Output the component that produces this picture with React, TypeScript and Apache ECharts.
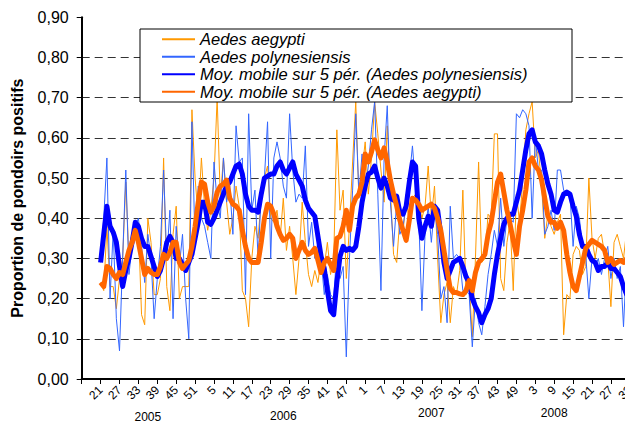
import React, { useEffect, useRef } from 'react';
import * as echarts from 'echarts';

// Weekly categories: 2005 w15 .. 2008 w33 (data starts at 2005 w21)
const yearSpans = [
  { year: 2005, from: 15, to: 52 },
  { year: 2006, from: 1, to: 52 },
  { year: 2007, from: 1, to: 52 },
  { year: 2008, from: 1, to: 33 },
];
const categories: string[] = [];
yearSpans.forEach((s) => {
  for (let w = s.from; w <= s.to; w++) categories.push(String(w));
});
const leadingEmpty = 6; // weeks 15-20 of 2005 have no data

const yearLabels = [
  { label: '2005', index: 21, pad: 4 },
  { label: '2006', index: 64, pad: 3 },
  { label: '2007', index: 111, pad: 0 },
  { label: '2008', index: 150, pad: 0 },
];

const aegypti = [
  0.24, 0.22, 0.38, 0.23, 0.23, 0.175, 0.25, 0.30, 0.49, 0.30,
  0.33, 0.36, 0.38, 0.16, 0.135, 0.40, 0.34, 0.21, 0.21, 0.25,
  0.55, 0.23, 0.17, 0.36, 0.43, 0.20, 0.23, 0.23, 0.23, 0.67,
  0.50, 0.40, 0.55, 0.43, 0.37, 0.42, 0.50, 0.70, 0.45, 0.55,
  0.44, 0.36, 0.40, 0.48, 0.43, 0.22, 0.20, 0.13, 0.30, 0.38,
  0.35, 0.45, 0.50, 0.53, 0.40, 0.39, 0.42, 0.35, 0.45, 0.32,
  0.38, 0.30, 0.21, 0.30, 0.44, 0.34, 0.26, 0.23, 0.27, 0.24,
  0.30, 0.28, 0.34, 0.26, 0.30, 0.62, 0.42, 0.47, 0.25, 0.38,
  0.54, 0.69, 0.45, 0.52, 0.59, 0.46, 0.55, 0.69, 0.61, 0.52,
  0.44, 0.63, 0.47, 0.31, 0.29, 0.40, 0.36, 0.46, 0.38, 0.45,
  0.46, 0.44, 0.40, 0.43, 0.53, 0.40, 0.48, 0.30, 0.14, 0.21,
  0.24, 0.14, 0.23, 0.21, 0.27, 0.47, 0.21, 0.24, 0.105, 0.30,
  0.54, 0.29, 0.30, 0.41, 0.40, 0.61, 0.61, 0.25, 0.22, 0.34,
  0.39, 0.22, 0.46, 0.39, 0.49, 0.62, 0.66, 0.69, 0.55, 0.57,
  0.48, 0.35, 0.41, 0.38, 0.36, 0.39, 0.41, 0.11, 0.21, 0.20,
  0.31, 0.33, 0.32, 0.26, 0.28, 0.50, 0.35, 0.30, 0.35, 0.36,
  0.31, 0.30, 0.18, 0.34, 0.36, 0.33, 0.30, 0.37, 0.25,
];

const polynesiensis = [
  0.29, 0.40, 0.55, 0.20, 0.37, 0.15, 0.07, 0.30, 0.52, 0.26,
  0.33, 0.38, 0.40, 0.33, 0.24, 0.36, 0.30, 0.15, 0.25, 0.33,
  0.52, 0.30, 0.42, 0.15, 0.38, 0.28, 0.36, 0.20, 0.10, 0.64,
  0.33, 0.48, 0.40, 0.38, 0.34, 0.30, 0.54, 0.44, 0.40, 0.55,
  0.44, 0.48, 0.36, 0.63, 0.54, 0.55, 0.21, 0.66, 0.42, 0.47,
  0.30, 0.46, 0.50, 0.64, 0.30, 0.55, 0.59, 0.55, 0.48, 0.45,
  0.66, 0.52, 0.44, 0.46, 0.45, 0.58, 0.33, 0.39, 0.30, 0.34,
  0.30, 0.21, 0.26, 0.21, 0.20, 0.32, 0.25, 0.28, 0.055, 0.30,
  0.47, 0.66, 0.46, 0.56, 0.47, 0.53, 0.62, 0.69, 0.46, 0.22,
  0.55, 0.68, 0.44, 0.33, 0.44, 0.36, 0.38, 0.43, 0.50, 0.58,
  0.48, 0.40, 0.17, 0.36, 0.43, 0.34, 0.43, 0.36, 0.20, 0.23,
  0.14, 0.43, 0.30, 0.31, 0.30, 0.22, 0.22, 0.21, 0.08, 0.20,
  0.14, 0.11, 0.18, 0.26, 0.31, 0.37, 0.33, 0.45, 0.33, 0.40,
  0.40, 0.39, 0.66, 0.65, 0.67, 0.66, 0.63, 0.40, 0.60, 0.52,
  0.52, 0.36, 0.38, 0.42, 0.37, 0.52, 0.52, 0.47, 0.46, 0.46,
  0.33, 0.43, 0.40, 0.33, 0.31, 0.20, 0.30, 0.28, 0.30, 0.26,
  0.30, 0.33, 0.25, 0.30, 0.25, 0.28, 0.13, 0.30, 0.27,
];

const maPolynesiensis = [
  0.29, 0.36, 0.43, 0.38, 0.365, 0.34, 0.28, 0.23, 0.27, 0.30,
  0.34, 0.39, 0.38, 0.35, 0.33, 0.33, 0.305, 0.28, 0.255, 0.27,
  0.30, 0.34, 0.355, 0.34, 0.30, 0.30, 0.285, 0.27, 0.29, 0.31,
  0.35, 0.39, 0.44, 0.44, 0.39, 0.385, 0.40, 0.42, 0.44, 0.46,
  0.48, 0.49, 0.51, 0.53, 0.535, 0.51, 0.46, 0.43, 0.42, 0.42,
  0.415, 0.46, 0.50, 0.505, 0.51, 0.51, 0.53, 0.54, 0.52, 0.51,
  0.525, 0.54, 0.51, 0.495, 0.48, 0.445, 0.425, 0.415, 0.405, 0.355,
  0.305, 0.275, 0.22, 0.17, 0.16, 0.24, 0.305, 0.33, 0.32, 0.325,
  0.32, 0.33, 0.38, 0.44, 0.48, 0.51, 0.515, 0.53, 0.50, 0.475,
  0.50, 0.48, 0.45, 0.445, 0.455, 0.415, 0.41, 0.43, 0.49, 0.54,
  0.53, 0.40, 0.35, 0.38, 0.405, 0.38, 0.43, 0.42, 0.36, 0.29,
  0.25, 0.27, 0.29, 0.295, 0.30, 0.28, 0.255, 0.24, 0.20, 0.18,
  0.165, 0.14, 0.16, 0.175, 0.20, 0.26, 0.31, 0.35, 0.385, 0.40,
  0.41, 0.41, 0.44, 0.47, 0.52, 0.57, 0.61, 0.62, 0.59, 0.58,
  0.56, 0.52, 0.485, 0.46, 0.42, 0.415, 0.44, 0.46, 0.465, 0.46,
  0.43, 0.405, 0.36, 0.33, 0.33, 0.31, 0.295, 0.29, 0.27, 0.28,
  0.28, 0.29, 0.275, 0.275, 0.265, 0.255, 0.23, 0.21, 0.20,
];

const maAegypti = [
  0.24, 0.23, 0.28, 0.275, 0.26, 0.25, 0.265, 0.26, 0.29, 0.32,
  0.34, 0.37, 0.34, 0.30, 0.26, 0.275, 0.265, 0.26, 0.26, 0.28,
  0.31, 0.30, 0.315, 0.34, 0.34, 0.29, 0.275, 0.285, 0.295, 0.33,
  0.38, 0.44, 0.49, 0.485, 0.44, 0.415, 0.43, 0.465, 0.48, 0.485,
  0.495, 0.45, 0.435, 0.43, 0.42, 0.37, 0.33, 0.30, 0.29, 0.29,
  0.29, 0.34, 0.40, 0.435, 0.43, 0.41, 0.38, 0.36, 0.345, 0.35,
  0.36, 0.35, 0.30, 0.32, 0.34, 0.32, 0.31, 0.315, 0.325, 0.295,
  0.265, 0.29, 0.30, 0.285, 0.27, 0.35, 0.355, 0.38, 0.42, 0.37,
  0.43, 0.45, 0.46, 0.49, 0.56, 0.54, 0.565, 0.595, 0.57, 0.55,
  0.575, 0.54, 0.495, 0.46, 0.43, 0.395, 0.37, 0.345, 0.395, 0.45,
  0.445, 0.435, 0.42, 0.425, 0.43, 0.435, 0.425, 0.40, 0.37, 0.32,
  0.27, 0.225, 0.215, 0.215, 0.212, 0.21, 0.22, 0.245, 0.22, 0.265,
  0.29, 0.30, 0.31, 0.36, 0.39, 0.44, 0.49, 0.51, 0.465, 0.42,
  0.385, 0.345, 0.31, 0.38, 0.42, 0.47, 0.54, 0.55, 0.53, 0.52,
  0.495, 0.45, 0.405, 0.39, 0.39, 0.375, 0.39, 0.37, 0.31, 0.265,
  0.23, 0.22, 0.255, 0.29, 0.325, 0.335, 0.345, 0.34, 0.335, 0.33,
  0.32, 0.29, 0.30, 0.285, 0.29, 0.295, 0.29, 0.30, 0.285,
];

const seriesNames = [
  'Aedes aegypti',
  'Aedes polynesiensis',
  'Moy. mobile sur 5 pér. (Aedes polynesiensis)',
  'Moy. mobile sur 5 pér. (Aedes aegypti)',
];

const FONT = '"Liberation Sans", Arial, Helvetica, sans-serif';

function pad(arr: number[]): (number | null)[] {
  const out: (number | null)[] = [];
  for (let i = 0; i < leadingEmpty; i++) out.push(null);
  return out.concat(arr);
}

export default function App() {
  const ref = useRef<HTMLDivElement>(null);
  useEffect(() => {
    if (!ref.current) return;
    const chart = echarts.init(ref.current, undefined, { renderer: 'svg' });
    const yearIdx = new Map<number, number>();
    yearLabels.forEach((y, k) => yearIdx.set(y.index, k));
    const rich: Record<string, any> = {};
    yearLabels.forEach((y, k) => {
      rich['y' + k] = { fontSize: 12, fontFamily: FONT, color: '#000', padding: [y.pad, 0, 0, 0] };
    });
    const option: any = {
      animation: false,
      backgroundColor: '#ffffff',
      grid: {
        left: 81.7,
        top: 17.3,
        width: 548.1,
        height: 361.7,
        containLabel: false,
        outerBoundsMode: 'none',
      },
      legend: {
        orient: 'vertical',
        left: 140,
        top: 29,
        padding: [1.5, 10, 1, 21],
        itemGap: 0,
        itemWidth: 33,
        itemHeight: 12,
        z: 6,
        selectedMode: false,
        data: seriesNames,
        itemStyle: { opacity: 0 },
        textStyle: {
          fontFamily: FONT,
          fontStyle: 'italic',
          fontSize: 16.5,
          lineHeight: 17.5,
          color: '#000',
        },
      },
      graphic: [
        {
          type: 'rect',
          z: 5,
          silent: true,
          shape: { x: 140, y: 29, width: 432, height: 73 },
          style: { fill: '#ffffff', stroke: '#000000', lineWidth: 1 },
        },
      ],
      xAxis: [
        {
          type: 'category',
          data: categories,
          boundaryGap: false,
          axisLine: { show: true, lineStyle: { color: '#000', width: 2 } },
          axisTick: {
            show: true,
            interval: (i: number) => i % 6 === 0,
            length: 5,
            lineStyle: { color: '#000', width: 1 },
          },
          axisLabel: {
            interval: (i: number) => i % 6 === 0 && i > 0,
            rotate: 45,
            margin: 9,
            fontSize: 12,
            fontFamily: FONT,
            color: '#000',
          },
          splitLine: { show: false },
        },
        {
          type: 'category',
          data: categories,
          boundaryGap: false,
          position: 'bottom',
          axisLine: { show: false },
          axisTick: { show: false },
          axisLabel: {
            interval: (i: number) => yearIdx.has(i),
            margin: 28,
            formatter: (_v: string, i: number) => {
              const k = yearIdx.get(i);
              return k === undefined ? '' : '{y' + k + '|' + yearLabels[k].label + '}';
            },
            rich,
          },
          splitLine: { show: false },
        },
      ],
      yAxis: {
        type: 'value',
        min: 0,
        max: 0.9,
        interval: 0.1,
        name: 'Proportion de pondoirs positifs',
        nameLocation: 'middle',
        nameGap: 56,
        nameTextStyle: { fontFamily: FONT, fontWeight: 'bold', fontSize: 16, color: '#000' },
        axisLine: { show: true, lineStyle: { color: '#000', width: 2 } },
        axisTick: { show: true, length: 5, lineStyle: { color: '#000', width: 1 } },
        axisLabel: {
          formatter: (v: number) => v.toFixed(2).replace('.', ','),
          fontSize: 16,
          fontFamily: FONT,
          color: '#000',
          margin: 13,
        },
        splitLine: {
          show: true,
          showMinLine: false,
          showMaxLine: false,
          lineStyle: { color: '#333', type: [8, 5], width: 1 },
        },
      },
      series: [
        {
          name: seriesNames[0],
          type: 'line',
          data: pad(aegypti),
          symbol: 'none',
          silent: true,
          color: '#FF9900',
          lineStyle: { width: 1, color: '#FF9900' },
          z: 2,
        },
        {
          name: seriesNames[1],
          type: 'line',
          data: pad(polynesiensis),
          symbol: 'none',
          silent: true,
          color: '#3366FF',
          lineStyle: { width: 1, color: '#3366FF' },
          z: 2,
        },
        {
          name: seriesNames[2],
          type: 'line',
          data: pad(maPolynesiensis),
          symbol: 'none',
          silent: true,
          color: '#0000FF',
          lineStyle: { width: 5, color: '#0000FF', join: 'round' },
          z: 3,
        },
        {
          name: seriesNames[3],
          type: 'line',
          data: pad(maAegypti),
          symbol: 'none',
          silent: true,
          color: '#FF6600',
          lineStyle: { width: 5, color: '#FF6600', join: 'round' },
          z: 3,
        },
      ],
    };
    chart.setOption(option);
    return () => chart.dispose();
  }, []);
  return (
    <div style={{ position: 'fixed', left: 0, top: 0, width: 625, height: 423, overflow: 'hidden', background: '#fff' }}>
      <div ref={ref} style={{ width: 640, height: 423 }} />
    </div>
  );
}
